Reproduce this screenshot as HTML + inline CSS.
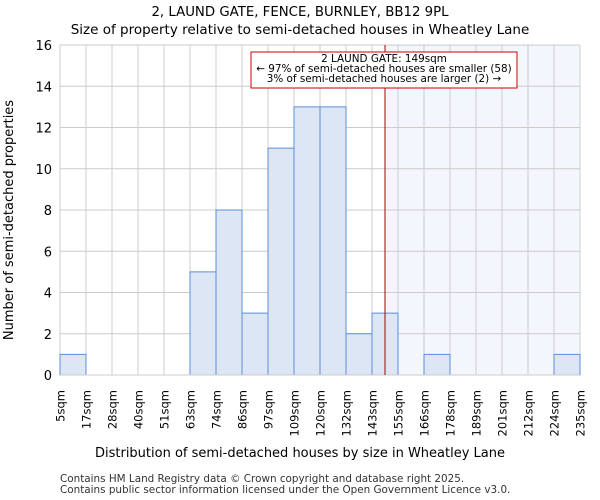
<!DOCTYPE html>
<html><head><meta charset="utf-8"><style>body{margin:0;background:#fff}svg{display:block;font-family:"DejaVu Sans","Liberation Sans",sans-serif}</style></head>
<body>
<svg id="c" width="600" height="500">
<text x="300" y="16" text-anchor="middle" font-size="13.3">2, LAUND GATE, FENCE, BURNLEY, BB12 9PL</text>
<text x="300" y="34" text-anchor="middle" font-size="13.5">Size of property relative to semi-detached houses in Wheatley Lane</text>
<g id="g"></g>
<text x="300" y="457" text-anchor="middle" font-size="13">Distribution of semi-detached houses by size in Wheatley Lane</text>
<text transform="translate(13,220) rotate(-90)" text-anchor="middle" font-size="13">Number of semi-detached properties</text>
<text x="60" y="482" font-size="10.4" fill="#333">Contains HM Land Registry data © Crown copyright and database right 2025.</text>
<text x="60" y="493" font-size="10.4" fill="#333">Contains public sector information licensed under the Open Government Licence v3.0.</text>
</svg>
<script>
const binLabels=["5sqm","17sqm","28sqm","40sqm","51sqm","63sqm","74sqm","86sqm","97sqm","109sqm","120sqm","132sqm","143sqm","155sqm","166sqm","178sqm","189sqm","201sqm","212sqm","224sqm","235sqm"];
const counts=[1,0,0,0,0,5,8,3,11,13,13,2,3,0,1,0,0,0,0,1];
const yTicks=[0,2,4,6,8,10,12,14,16];
const subjectIndex=12.5;
const L=60,R=580,T=45,B=375,yMax=16;
const n=counts.length,bw=(R-L)/n;
const xs=i=>L+i*bw, ys=v=>B-v/yMax*(B-T);
const NS="http://www.w3.org/2000/svg",g=document.getElementById('g');
function mk(t,a,p){const e=document.createElementNS(NS,t);for(const k in a)e.setAttribute(k,a[k]);(p||g).appendChild(e);return e;}
const sx=xs(subjectIndex);
let e=mk('rect',{x:sx,y:T,width:R-sx,height:B-T,fill:'#f3f6fd'});


yTicks.forEach(v=>{let l=mk('line',{x1:L,x2:R,y1:ys(v),y2:ys(v),stroke:'#ccc'});


let t=mk('text',{x:L-8,y:ys(v)+5,'text-anchor':'end','font-size':13});t.textContent=v;

});
binLabels.forEach((s,i)=>{let l=mk('line',{x1:xs(i),x2:xs(i),y1:T,y2:B,stroke:'#ccc'});


let t=mk('text',{transform:`translate(${xs(i)+4.5},${B+15}) rotate(-90)`,'text-anchor':'end','font-size':11.5});t.textContent=s;

});
counts.forEach((v,i)=>{if(!v)return;let r=mk('rect',{x:xs(i),y:ys(v),width:bw,height:B-ys(v),fill:'#dde6f4',stroke:'#5b8fd6','stroke-width':1});

});
e=mk('line',{x1:L,x2:R,y1:B,y2:B,stroke:'#ccc'});


e=mk('line',{x1:sx,x2:sx,y1:T,y2:B,stroke:'#a00','stroke-width':1});


e=mk('rect',{x:251,y:52,width:266,height:36,fill:'#fff',stroke:'#c00'});


["2 LAUND GATE: 149sqm","← 97% of semi-detached houses are smaller (58)","3% of semi-detached houses are larger (2) →"].forEach((s,i)=>{let t=mk('text',{x:384,y:62+i*10,'text-anchor':'middle','font-size':10.4});t.textContent=s;

});
</script>
</body></html>
